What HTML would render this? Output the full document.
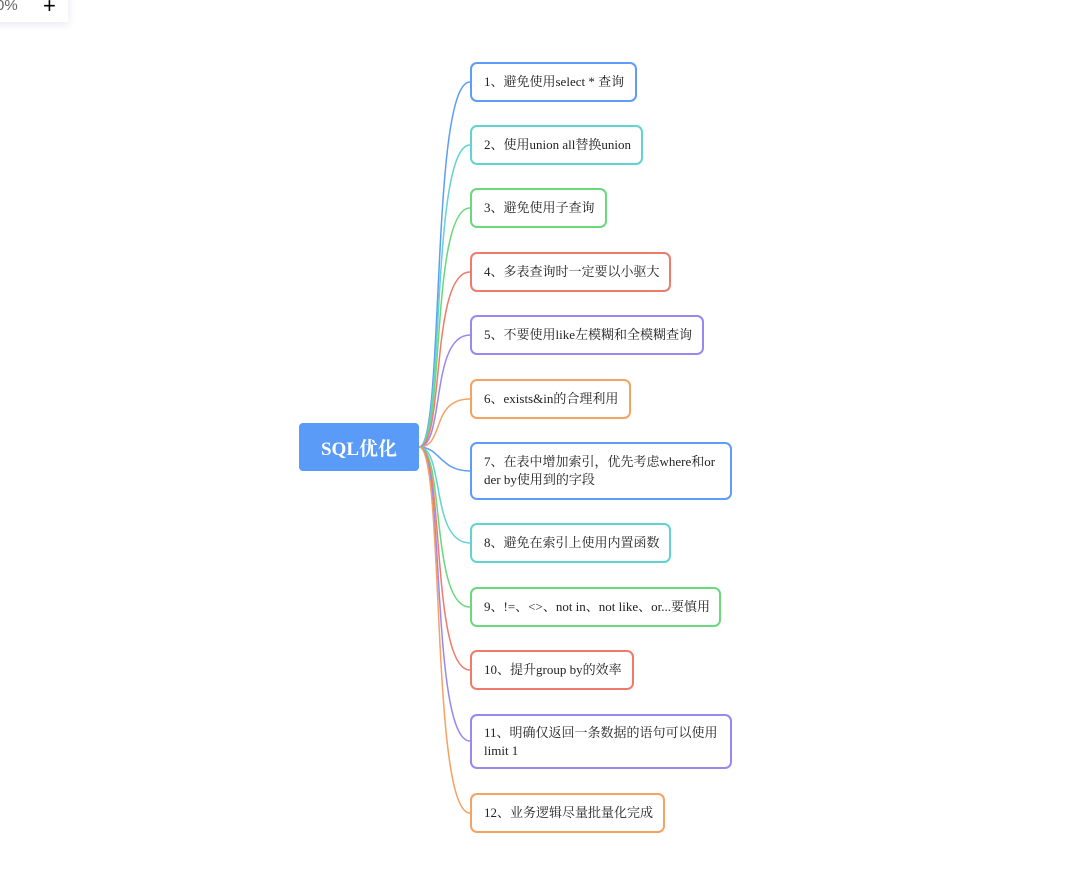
<!DOCTYPE html>
<html><head><meta charset="utf-8"><style>
body{margin:0;width:1080px;height:882px;background:#fff;position:relative;overflow:hidden;font-family:"Liberation Serif","Noto Serif CJK SC",serif;}
.b{position:absolute;left:470px;box-sizing:border-box;border:2px solid;border-radius:7px;background:#fff;font-size:13px;color:#222;padding:0 12px;display:flex;align-items:center;line-height:18px;white-space:nowrap;}
.b.w{white-space:normal;word-break:break-all;}
.root{position:absolute;left:299px;top:423px;width:120px;height:48px;background:#5b9bf8;border-radius:4px;color:#fff;font-size:19px;font-weight:bold;display:flex;align-items:center;justify-content:center;}
.tb{position:absolute;left:-10px;top:-10px;width:78px;height:32px;background:#fff;box-shadow:0 2px 8px rgba(120,130,200,.18);font-family:"Liberation Sans",sans-serif;}
</style></head><body>
<div class="tb"><span style="position:absolute;left:6px;top:7px;font-size:15px;color:#666">0%</span><span style="position:absolute;left:53px;top:3px;font-size:22px;color:#000">+</span></div>
<svg width="1080" height="882" style="position:absolute;left:0;top:0" fill="none" stroke-width="1.5">
<path d="M419 447 C445 447,430 82,470 82" stroke="#5e9cf7"/>
<path d="M419 447 C445 447,430 145,470 145" stroke="#62d3d0"/>
<path d="M419 447 C445 447,430 208,470 208" stroke="#6bd87c"/>
<path d="M419 447 C445 447,430 272,470 272" stroke="#ef7b6a"/>
<path d="M419 447 C445 447,430 335,470 335" stroke="#9a87ef"/>
<path d="M419 447 C445 447,430 399,470 399" stroke="#f5a262"/>
<path d="M419 447 C440 447,440 471,470 471" stroke="#5e9cf7"/>
<path d="M419 447 C445 447,430 543,470 543" stroke="#62d3d0"/>
<path d="M419 447 C445 447,430 607,470 607" stroke="#6bd87c"/>
<path d="M419 447 C445 447,430 670,470 670" stroke="#ef7b6a"/>
<path d="M419 447 C445 447,430 741,470 741" stroke="#9a87ef"/>
<path d="M419 447 C445 447,430 813,470 813" stroke="#f5a262"/>
</svg>
<div class="root">SQL优化</div>
<div class="b" style="top:62px;width:167px;height:40px;border-color:#5e9cf7">1、避免使用select * 查询</div>
<div class="b" style="top:125px;width:173px;height:40px;border-color:#62d3d0">2、使用union all替换union</div>
<div class="b" style="top:188px;width:137px;height:40px;border-color:#6bd87c">3、避免使用子查询</div>
<div class="b" style="top:252px;width:201px;height:40px;border-color:#ef7b6a">4、多表查询时一定要以小驱大</div>
<div class="b" style="top:315px;width:234px;height:40px;border-color:#9a87ef">5、不要使用like左模糊和全模糊查询</div>
<div class="b" style="top:379px;width:161px;height:40px;border-color:#f5a262">6、exists&amp;in的合理利用</div>
<div class="b w" style="top:442px;width:262px;height:58px;border-color:#5e9cf7">7、在表中增加索引，优先考虑where和order by使用到的字段</div>
<div class="b" style="top:523px;width:201px;height:40px;border-color:#62d3d0">8、避免在索引上使用内置函数</div>
<div class="b" style="top:587px;width:251px;height:40px;border-color:#6bd87c">9、!=、&lt;&gt;、not in、not like、or...要慎用</div>
<div class="b" style="top:650px;width:164px;height:40px;border-color:#ef7b6a">10、提升group by的效率</div>
<div class="b w" style="top:714px;width:262px;height:55px;border-color:#9a87ef">11、明确仅返回一条数据的语句可以使用limit 1</div>
<div class="b" style="top:793px;width:195px;height:40px;border-color:#f5a262">12、业务逻辑尽量批量化完成</div>
</body></html>
